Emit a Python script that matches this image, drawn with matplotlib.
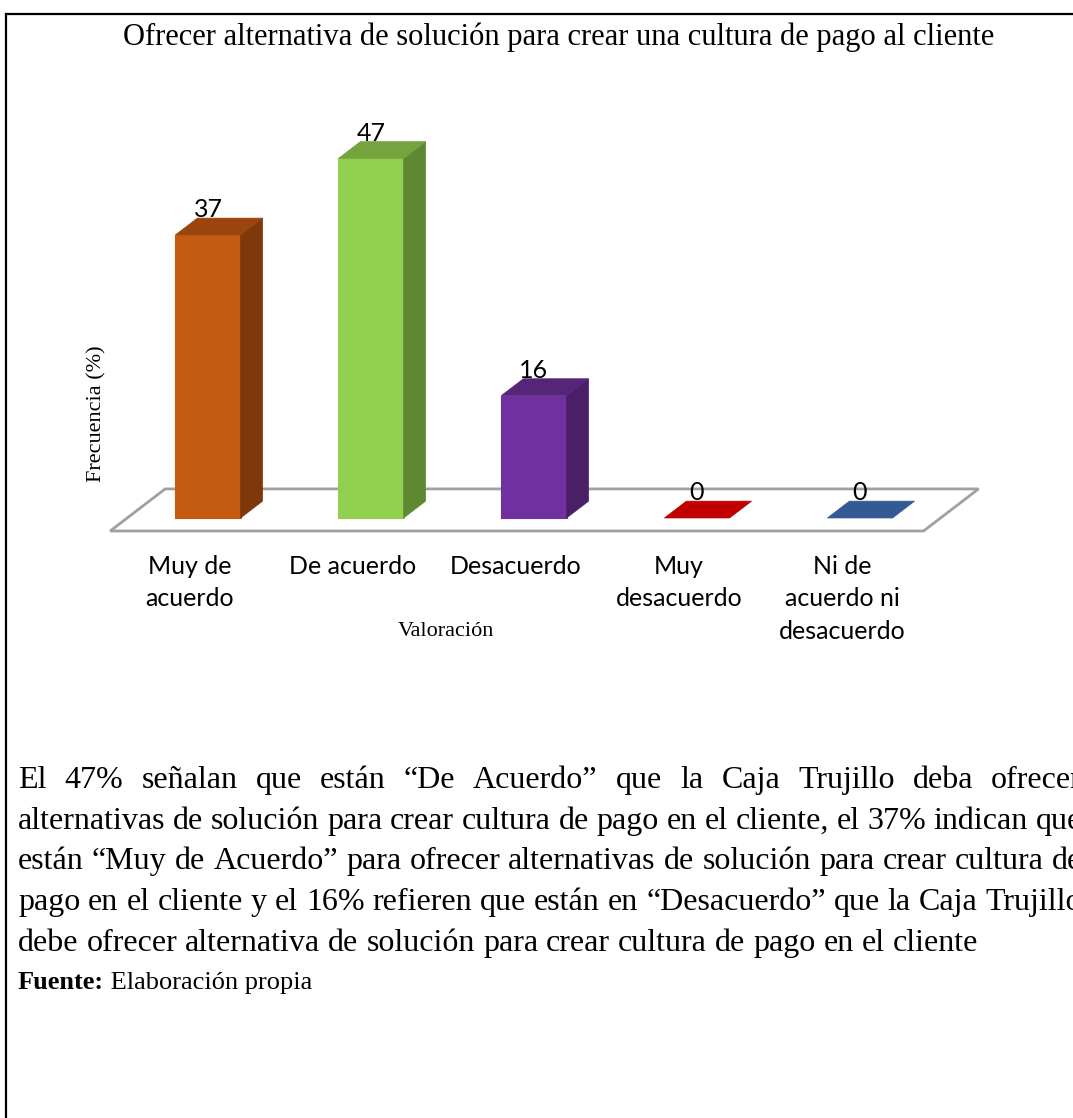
import matplotlib
matplotlib.use("Agg")
import matplotlib.pyplot as plt
from matplotlib.patches import Polygon
from matplotlib.lines import Line2D

# Datos de la encuesta
categorias = ["Muy de\nacuerdo", "De acuerdo", "Desacuerdo", "Muy\ndesacuerdo", "Ni de\nacuerdo ni\ndesacuerdo"]
frecuencia = [37, 47, 16, 0, 0]

titulo = "Ofrecer alternativa de solución para crear una cultura de pago al cliente"
lineas_parrafo = [
    "El 47% señalan que están “De Acuerdo” que la Caja Trujillo deba ofrecer",
    "alternativas de solución para crear cultura de pago en el cliente, el 37% indican que",
    "están “Muy de Acuerdo” para ofrecer alternativas de solución para crear cultura de",
    "pago en el cliente y el 16% refieren que están en “Desacuerdo” que la Caja Trujillo",
    "debe ofrecer alternativa de solución para crear cultura de pago en el cliente",
]

# colores: frente, tapa, lateral
col_frente = ["#C55A11", "#92D050", "#7030A0", "#C00000", "#2F5597"]
col_tapa = ["#9A440E", "#76A33E", "#55257A", "#C00000", "#345A96"]
col_lado = ["#7E380C", "#5F8833", "#4A1F68", "#900000", "#223F6B"]

SERIF = "Liberation Serif"
SANS = "Lato"

W, H = 1073, 1118
fig = plt.figure(figsize=(W / 100, H / 100), dpi=100)
fig.patch.set_facecolor("white")

# marco del cuadro
fig.add_artist(Line2D([6 / W, 6 / W], [0, 1 - 14 / H], color="black", lw=1.6))
fig.add_artist(Line2D([6 / W, 1], [1 - 14 / H, 1 - 14 / H], color="black", lw=1.6))

fig.text(559 / W, 1 - 37 / H, titulo, ha="center", va="center", fontsize=22, family=SERIF)

# área del gráfico (x: categoría, y: porcentaje)
ax = fig.add_axes([0.0799, 0.523, 0.8355, 0.3558])
ax.set_xlim(-0.75, 4.75)
ax.set_ylim(-2, 50)
ax.axis("off")

ancho = 0.4
px, py = 0.135, 2.2  # profundidad de las barras

# piso en perspectiva
piso_izq, piso_der, piso_frente, piso_fondo = -0.6, 4.39, -1.7, 3.8
k = (piso_fondo - piso_frente) * px / py
ax.add_patch(Polygon([(piso_izq, piso_frente), (piso_der, piso_frente),
                      (piso_der + k, piso_fondo), (piso_izq + k, piso_fondo)],
                     closed=True, facecolor="white", edgecolor="#A0A0A0", lw=2, zorder=1))

for i, v in enumerate(frecuencia):
    x0, x1 = i - ancho / 2, i + ancho / 2
    if v > 0:
        ax.add_patch(Polygon([(x0, 0), (x1, 0), (x1, v), (x0, v)], closed=True,
                             facecolor=col_frente[i], edgecolor=col_frente[i], lw=0.8, zorder=3))
        ax.add_patch(Polygon([(x1, 0), (x1 + px, py), (x1 + px, v + py), (x1, v)], closed=True,
                             facecolor=col_lado[i], edgecolor=col_lado[i], lw=0.5, zorder=3))
    ax.add_patch(Polygon([(x0, v), (x1, v), (x1 + px, v + py), (x0 + px, v + py)], closed=True,
                         facecolor=col_tapa[i], edgecolor=col_tapa[i], lw=0.5, zorder=3))
    ax.text(i, v + py + 0.1, str(v), ha="center", va="baseline", fontsize=18, family=SANS, zorder=4)
    ax.text(i - 0.11, -4.8, categorias[i], ha="center", va="top", fontsize=18, family=SANS,
            linespacing=1.5)

fig.text(446 / W, 1 - 632 / H, "Valoración", ha="center", va="center", fontsize=16, family=SERIF)
fig.text(97 / W, 1 - 414 / H, "Frecuencia (%)", ha="center", va="center", rotation=90,
         fontsize=16, family=SERIF)

# párrafo justificado, palabra por palabra
renderer = fig.canvas.get_renderer()


def ancho_px(t):
    return t.get_window_extent(renderer).width


TAM = 23
x_ini, x_fin = 18, 1082
base_y = [788, 829, 869, 910, 951]
esp = fig.text(0, 0, "a a", fontsize=TAM, family=SERIF)
sin = fig.text(0, 0, "aa", fontsize=TAM, family=SERIF)
espacio = ancho_px(esp) - ancho_px(sin)
esp.remove()
sin.remove()

for n, (linea, yb) in enumerate(zip(lineas_parrafo, base_y)):
    palabras = linea.split(" ")
    textos = [fig.text(0, 1 - yb / H, p, fontsize=TAM, family=SERIF, va="baseline") for p in palabras]
    anchos = [ancho_px(t) for t in textos]
    hueco = espacio
    if n < len(lineas_parrafo) - 1:
        hueco = max(espacio * 0.8, (x_fin - x_ini - sum(anchos)) / (len(palabras) - 1))
    x = x_ini
    for t, a in zip(textos, anchos):
        t.set_x(x / W)
        x += a + hueco

f1 = fig.text(18 / W, 1 - 989 / H, "Fuente:", fontsize=19, family=SERIF, weight="bold", va="baseline")
f2 = fig.text(0, 1 - 989 / H, " Elaboración propia", fontsize=19, family=SERIF, va="baseline")
f2.set_x((18 + ancho_px(f1)) / W)

fig.savefig("out.png", dpi=100)
